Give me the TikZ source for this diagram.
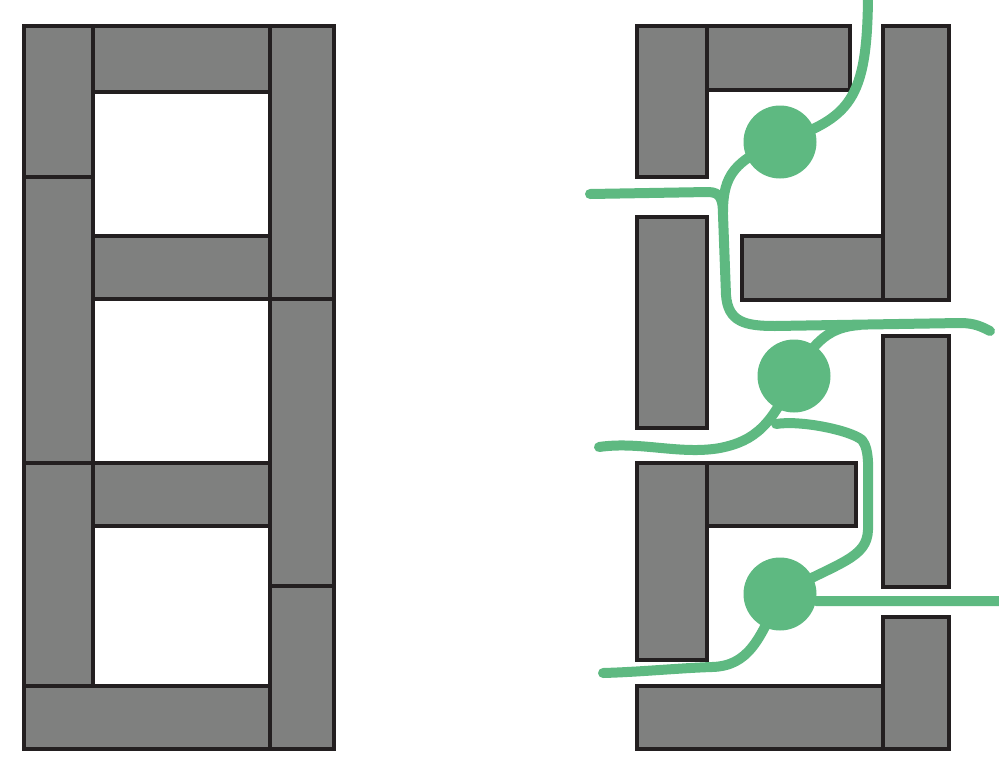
\documentclass[tikz,border=0pt]{standalone}
\usepackage{xcolor}
\usepackage{tikz}
\usetikzlibrary{positioning}

\definecolor{slab}{RGB}{127,128,127}
\definecolor{edge}{RGB}{35,31,32}
\definecolor{leaf}{RGB}{94,185,129}

\begin{document}
\begin{tikzpicture}[
    x = 1pt, y = -1pt,
    brick/.style = {draw=edge, fill=slab, line width=4.7pt},
    vine/.style = {draw=leaf, line width=10pt, line cap=round, line join=round},
    blob/.style = {circle, fill=leaf, minimum size=73pt, inner sep=0pt}
]
\useasboundingbox (0,0) rectangle (999,761);

% closed wall
\draw[brick] (24,26) rectangle (93,177);
\draw[brick] (24,177) rectangle (93,463);
\draw[brick] (24,463) rectangle (93,686);
\draw[brick] (24,686) rectangle (270,749);
\draw[brick] (93,26) rectangle (270,92);
\draw[brick] (93,236) rectangle (270,299);
\draw[brick] (93,463) rectangle (270,526);
\draw[brick] (270,26) rectangle (334,299);
\draw[brick] (270,299) rectangle (334,586);
\draw[brick] (270,586) rectangle (334,749);

% open wall
\draw[brick] (637,26) rectangle (707,177);
\draw[brick] (707,26) rectangle (850,90);
\draw[brick] (883,26) rectangle (949,300);
\draw[brick] (742,236) rectangle (883,300);
\draw[brick] (637,217) rectangle (707,428);
\draw[brick] (883,336) rectangle (949,587);
\draw[brick] (637,463) rectangle (707,660);
\draw[brick] (707,463) rectangle (856,526);
\draw[brick] (637,686) rectangle (883,749);
\draw[brick] (883,617) rectangle (949,749);

% cells
\node (b1) [blob] at (780,142) {};
\node (b2) [blob] at (794,376) {};
\node (b3) [blob] at (780,594) {};

\coordinate (top) at (868,-2);
\coordinate (w1) at (590,194);
\coordinate (e1) at (990,331);
\coordinate (j1) at (860,325);
\coordinate (w2) at (599,447);
\coordinate (j2) at (776,424);
\coordinate (e3) at (1000,601);
\coordinate (w3) at (603,673);

\draw[vine] (top) .. controls (867,100) and (850,118) .. (b1.center);
\draw[vine] (w1) -- (708,192) .. controls (721,192) and (723,200) .. (723,215)
    -- (726,295) .. controls (728,322) and (745,326) .. (775,326)
    -- (960,323) .. controls (975,323) and (982,327) .. (e1);
\draw[vine] (b1.center) .. controls (735,160) and (723,175) .. (723,212);
\draw[vine] (b2.center) .. controls (815,340) and (830,327) .. (j1);
\draw[vine] (w2) .. controls (640,441) and (680,455) .. (720,448)
    .. controls (755,441) and (772,425) .. (b2.center);
\draw[vine] (j2) .. controls (800,420) and (850,430) .. (862,440)
    .. controls (870,450) and (868,470) .. (868,495)
    -- (868,530) .. controls (867,558) and (840,562) .. (b3.center);
\draw[vine] (b3.-11) -- (e3);
\draw[vine] (b3.center) .. controls (760,640) and (748,666) .. (712,667)
    .. controls (680,668) and (640,672) .. (w3);
\end{tikzpicture}
\end{document}
